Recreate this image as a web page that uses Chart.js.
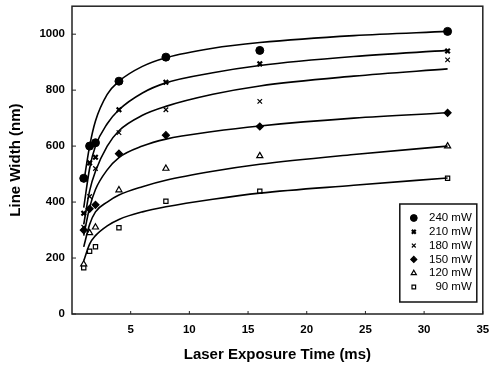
<!DOCTYPE html>
<html>
<head>
<meta charset="utf-8">
<script src="https://cdn.jsdelivr.net/npm/chart.js@4.4.1/dist/chart.umd.min.js"></script>
<style>
  html, body { margin: 0; padding: 0; background: #fff; }
  #wrap { width: 489px; height: 368px; position: relative; }
</style>
</head>
<body>
<div id="wrap"><canvas id="lineChart"></canvas></div>
<script>
// measured points (laser exposure time in ms vs line width in nm)
const timeMs = [1, 1.5, 2, 4, 8, 16, 32];
const width240 = [485, 600, 612, 832, 918, 942, 1010];
const width210 = [360, 540, 560, 730, 828, 894, 940];
const width180 = [310, 420, 520, 648, 730, 760, 908];
const width150 = [300, 376, 390, 573, 639, 670, 719];
const width120 = [178, 290, 310, 443, 520, 565, 600];
const width90  = [165, 224, 240, 308, 403, 439, 485];

// fitted curves
const fitTime = [1, 1.5, 2, 3, 4, 6, 8, 12, 16, 24, 32];
const fit240 = [470, 600, 690, 785, 832, 885, 916, 950, 970, 995, 1010];
const fit210 = [380, 520, 600, 680, 730, 790, 826, 862, 888, 920, 942];
const fit180 = [320, 440, 510, 600, 655, 710, 742, 785, 815, 850, 876];
const fit150 = [280, 380, 445, 515, 559, 600, 625, 652, 672, 700, 719];
const fit120 = [240, 320, 365, 400, 425, 455, 478, 510, 535, 570, 600];
const fit90  = [190, 250, 280, 315, 338, 365, 383, 410, 432, 460, 486];

const seriesLabels = ['240 mW', '210 mW', '180 mW', '150 mW', '120 mW', '90 mW'];

const ink = '#000';
const fontFamily = '"Liberation Sans", Arial, sans-serif';

function toPoints(xs, ys) {
    return xs.map((x, i) => ({ x: x, y: ys[i] }));
}

// marker style for each power level
const markers = [
    { pointStyle: 'circle',    radius: 4,   borderWidth: 1,   fill: ink },
    { pointStyle: 'crossRot',  radius: 3.2, borderWidth: 2.2, fill: ink },
    { pointStyle: 'crossRot',  radius: 3.2, borderWidth: 1.2, fill: ink },
    { pointStyle: 'rectRot',   radius: 3.5, borderWidth: 1.2, fill: ink },
    { pointStyle: 'triangle',  radius: 3.5, borderWidth: 1.2, fill: '#fff' },
    { pointStyle: 'rect',      radius: 3,   borderWidth: 1.2, fill: '#fff' }
];

const measured = [width240, width210, width180, width150, width120, width90];
const fits = [fit240, fit210, fit180, fit150, fit120, fit90];

const datasets = [];
fits.forEach((f, i) => {
    datasets.push({
        label: seriesLabels[i] + ' fit',
        data: toPoints(fitTime, f),
        showLine: true,
        borderColor: ink,
        borderWidth: 1.6,
        pointRadius: 0,
        cubicInterpolationMode: 'monotone',
        fill: false
    });
});
measured.forEach((m, i) => {
    datasets.push({
        label: seriesLabels[i],
        data: toPoints(timeMs, m),
        showLine: false,
        pointStyle: markers[i].pointStyle,
        pointRadius: markers[i].radius,
        pointBorderWidth: markers[i].borderWidth,
        pointBorderColor: ink,
        pointBackgroundColor: markers[i].fill
    });
});

// frame, inward ticks and the boxed legend
const framePlugin = {
    id: 'frame',
    afterDraw(chart) {
        const ctx = chart.ctx;
        const a = chart.chartArea;
        const xs = chart.scales.x;
        const ys = chart.scales.y;
        ctx.save();
        ctx.strokeStyle = '#222';
        ctx.lineWidth = 1.5;
        ctx.strokeRect(a.left, a.top, a.right - a.left, a.bottom - a.top);

        ctx.lineWidth = 1;
        ctx.beginPath();
        xs.ticks.forEach(t => {
            const px = xs.getPixelForValue(t.value);
            ctx.moveTo(px, a.bottom);
            ctx.lineTo(px, a.bottom - 3);
        });
        ys.ticks.forEach(t => {
            const py = ys.getPixelForValue(t.value);
            ctx.moveTo(a.left, py);
            ctx.lineTo(a.left + 4, py);
        });
        ctx.stroke();

        // legend box
        const boxL = a.right - 83, boxT = a.bottom - 110, boxW = 77, boxH = 98;
        ctx.fillStyle = '#fff';
        ctx.fillRect(boxL, boxT, boxW, boxH);
        ctx.strokeStyle = '#111';
        ctx.lineWidth = 1.5;
        ctx.strokeRect(boxL, boxT, boxW, boxH);

        ctx.font = '11.5px ' + fontFamily;
        ctx.textBaseline = 'middle';
        ctx.textAlign = 'right';
        seriesLabels.forEach((lab, i) => {
            const cy = boxT + 14 + i * 13.8;
            const mk = markers[i];
            ctx.fillStyle = mk.fill;
            ctx.strokeStyle = ink;
            ctx.lineWidth = mk.borderWidth;
            Chart.helpers.drawPoint(ctx, {
                pointStyle: mk.pointStyle,
                radius: mk.radius * 0.85,
                rotation: 0,
                borderWidth: mk.borderWidth
            }, boxL + 14, cy);
            ctx.fillStyle = ink;
            ctx.fillText(lab, boxL + boxW - 5, cy);
        });
        ctx.restore();
    }
};

new Chart(document.getElementById('lineChart'), {
    type: 'scatter',
    data: { datasets: datasets },
    options: {
        responsive: true,
        maintainAspectRatio: false,
        animation: false,
        layout: { padding: 0 },
        plugins: {
            legend: { display: false },
            tooltip: { enabled: false }
        },
        scales: {
            x: {
                type: 'linear',
                min: 0,
                max: 35,
                grid: { display: false, drawTicks: false },
                border: { display: false },
                afterBuildTicks: s => { s.ticks = s.ticks.filter(t => t.value > 0); },
                afterFit: s => { s.height = 54; s.paddingLeft = 0; s.paddingRight = 6; },
                ticks: {
                    stepSize: 5,
                    padding: 9,
                    color: ink,
                    font: { family: fontFamily, size: 11.5, weight: 'bold' }
                },
                title: {
                    display: true,
                    text: 'Laser Exposure Time (ms)',
                    color: ink,
                    padding: { top: 0, bottom: 4 },
                    font: { family: fontFamily, size: 15, weight: 'bold' }
                }
            },
            y: {
                min: 0,
                max: 1100,
                grid: { display: false, drawTicks: false },
                border: { display: false },
                afterBuildTicks: s => { s.ticks = s.ticks.filter(t => t.value % 200 === 0); },
                afterFit: s => { s.width = 72; s.paddingTop = 6; s.paddingBottom = 0; },
                ticks: {
                    stepSize: 200,
                    padding: 7,
                    color: ink,
                    callback: v => String(v),
                    font: { family: fontFamily, size: 11.5, weight: 'bold' }
                },
                title: {
                    display: true,
                    text: 'Line Width (nm)',
                    color: ink,
                    padding: { top: 7, bottom: 0 },
                    font: { family: fontFamily, size: 15, weight: 'bold' }
                }
            }
        }
    },
    plugins: [framePlugin]
});
</script>
</body>
</html>
